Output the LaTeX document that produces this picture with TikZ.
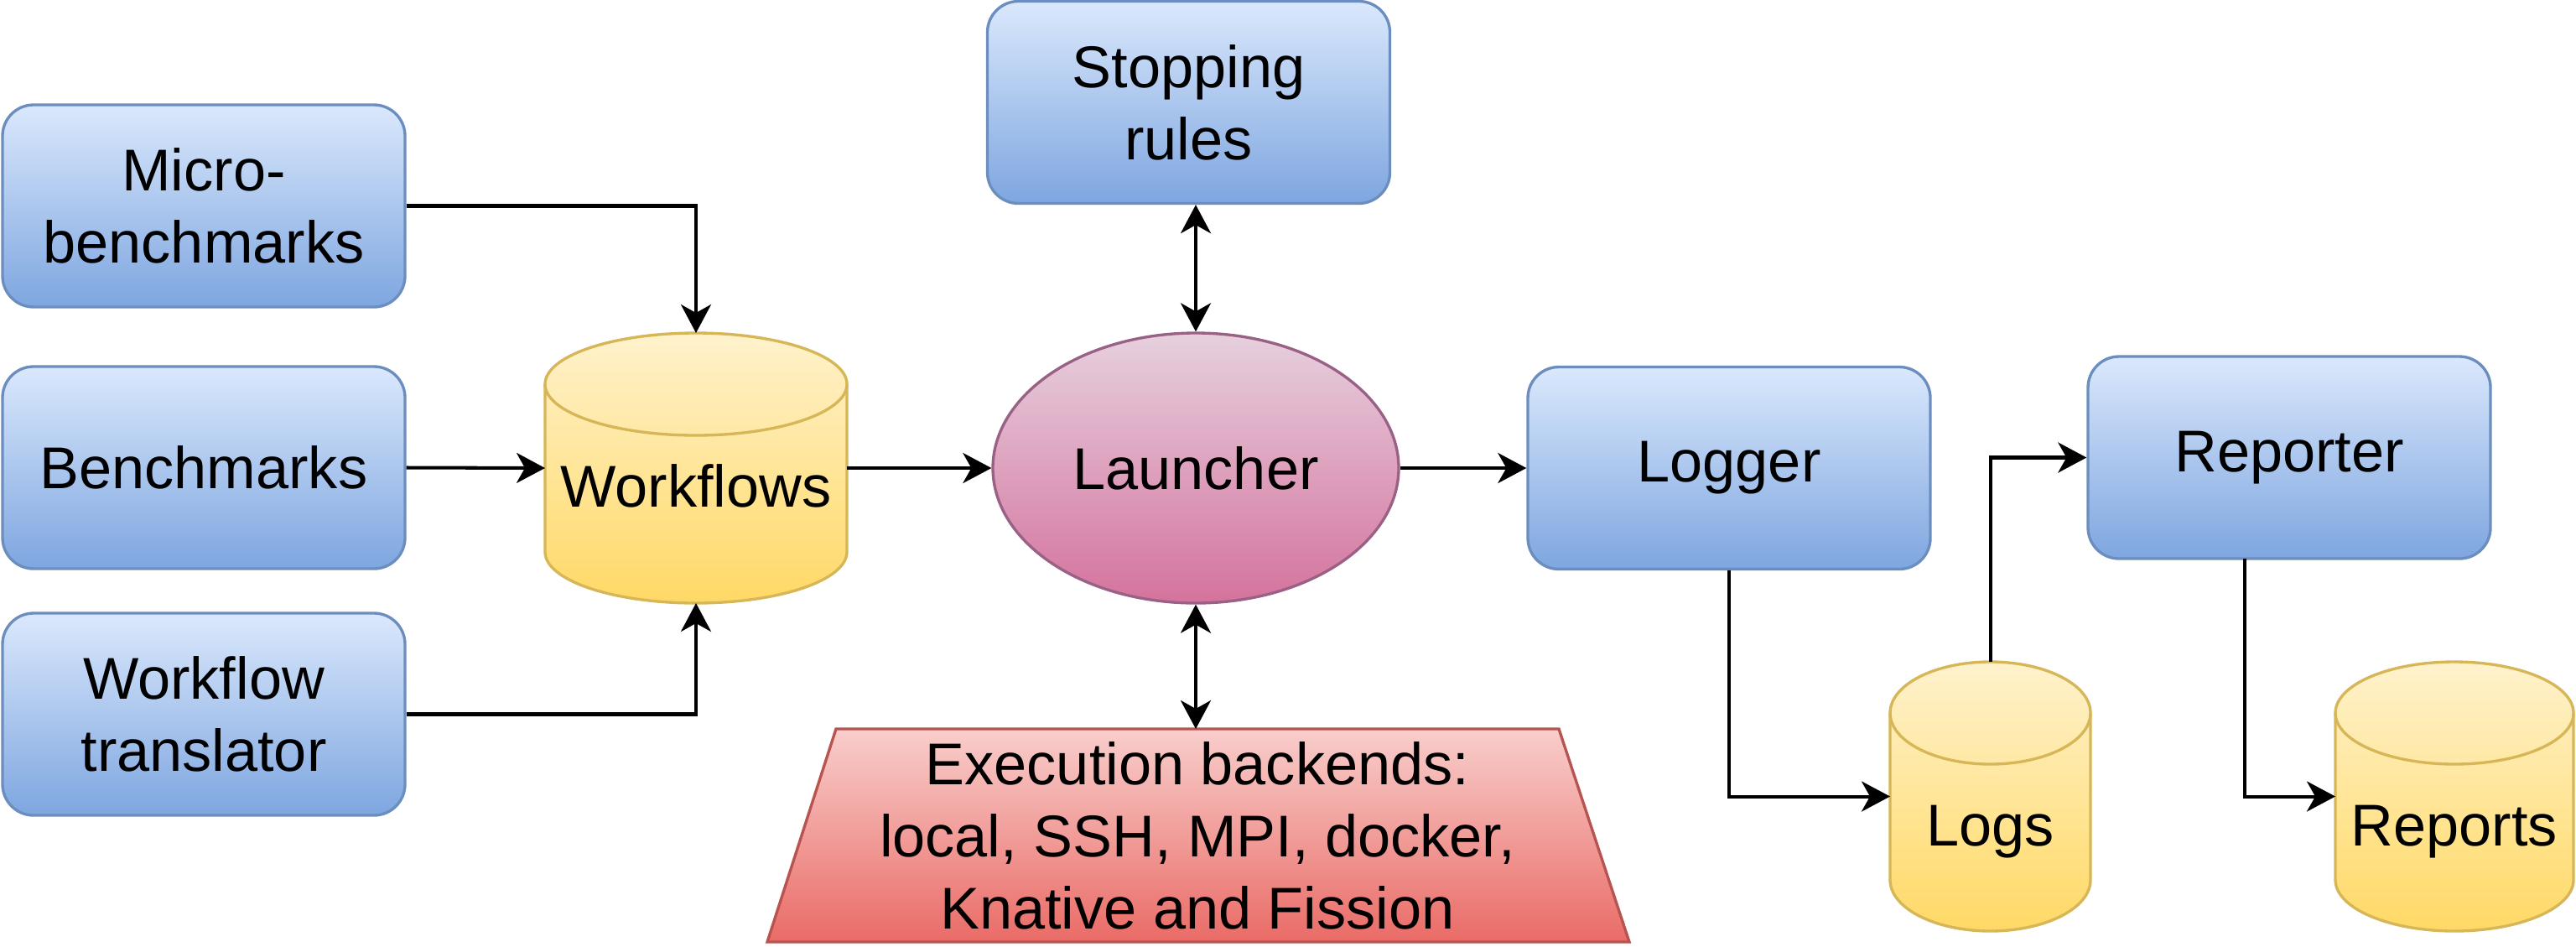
\documentclass[tikz,border=0pt]{standalone}
\usepackage{fontspec}
\setmainfont{Liberation Sans}
\usetikzlibrary{shapes.geometric,arrows.meta}
\definecolor{bluetop}{HTML}{DAE8FC}
\definecolor{bluebot}{HTML}{7EA6E0}
\definecolor{bluestroke}{HTML}{6C8EBF}
\definecolor{yeltop}{HTML}{FFF2CC}
\definecolor{yelbot}{HTML}{FFD966}
\definecolor{yelstroke}{HTML}{D6B656}
\definecolor{pinktop}{HTML}{E6D0DE}
\definecolor{pinkbot}{HTML}{D5739D}
\definecolor{pinkstroke}{HTML}{996185}
\definecolor{redtop}{HTML}{F8CECC}
\definecolor{redbot}{HTML}{EA6B66}
\definecolor{redstroke}{HTML}{B85450}
\begin{document}
\begin{tikzpicture}[
  font=\fontsize{20}{24.5}\selectfont,
  bluebox/.style={draw=bluestroke, line width=0.95pt, rounded corners=0.37cm,
    top color=bluetop, bottom color=bluebot, minimum width=4.8cm,
    minimum height=2.41cm, align=center, inner sep=0pt},
  cylstyle/.style={draw=yelstroke, line width=0.95pt, top color=yeltop, bottom color=yelbot},
  cylline/.style={draw=yelstroke, line width=0.95pt},
  hold/.style={inner sep=0pt, outer sep=0pt},
  conn/.style={line width=1.15pt, -{Stealth[length=3.4mm,width=3.6mm,inset=1mm]}},
  biconn/.style={line width=1.15pt, {Stealth[length=3.4mm,width=3.6mm,inset=1mm]}-{Stealth[length=3.4mm,width=3.6mm,inset=1mm]}}
]
\fill[white] (0,0) rectangle (30.72,-11.28);
\useasboundingbox (0,0) rectangle (30.72,-11.28);

% blue boxes
\node[bluebox] (micro) at (2.43,-2.455) {Micro-\\benchmarks};
\node[bluebox] (bench) at (2.43,-5.575) {Benchmarks};
\node[bluebox] (trans) at (2.43,-8.515) {Workflow\\translator};
\node[bluebox] (stop) at (14.175,-1.22) {Stopping\\rules};
\node[bluebox] (logger) at (20.62,-5.58) {Logger};
\node[bluebox] (rep) at (27.30,-5.455) {Reporter};

% Workflows cylinder
\path[cylstyle] (6.50,-4.58) -- (6.50,-6.58) arc[start angle=180,end angle=360,x radius=1.80cm,y radius=0.61cm]
  -- (10.10,-4.58) arc[start angle=0,end angle=180,x radius=1.80cm,y radius=0.61cm] -- cycle;
\draw[cylline] (6.50,-4.58) arc[start angle=180,end angle=360,x radius=1.80cm,y radius=0.61cm];
\node[hold, minimum width=3.6cm, minimum height=3.22cm] (wf) at (8.30,-5.58) {};
\node[anchor=base] (wft) at (8.30,-6.04) {Workflows};

% Logs cylinder
\path[cylstyle] (22.54,-8.50) -- (22.54,-10.49) arc[start angle=180,end angle=360,x radius=1.195cm,y radius=0.61cm]
  -- (24.93,-8.50) arc[start angle=0,end angle=180,x radius=1.195cm,y radius=0.61cm] -- cycle;
\draw[cylline] (22.54,-8.50) arc[start angle=180,end angle=360,x radius=1.195cm,y radius=0.61cm];
\node[hold, minimum width=2.39cm, minimum height=3.21cm] (logs) at (23.735,-9.495) {};
\node[anchor=base] (logst) at (23.735,-10.08) {Logs};

% Reports cylinder
\path[cylstyle] (27.85,-8.50) -- (27.85,-10.49) arc[start angle=180,end angle=360,x radius=1.42cm,y radius=0.61cm]
  -- (30.69,-8.50) arc[start angle=0,end angle=180,x radius=1.42cm,y radius=0.61cm] -- cycle;
\draw[cylline] (27.85,-8.50) arc[start angle=180,end angle=360,x radius=1.42cm,y radius=0.61cm];
\node[hold, minimum width=2.84cm, minimum height=3.21cm] (reports) at (29.27,-9.495) {};
\node[anchor=base] (reportst) at (29.27,-10.08) {Reports};

% Launcher
\node[ellipse, draw=pinkstroke, line width=0.95pt, top color=pinktop, bottom color=pinkbot,
  minimum width=4.84cm, minimum height=3.22cm, inner sep=0pt] (launch) at (14.26,-5.58) {Launcher};

% Execution backends trapezoid
\path[draw=redstroke, line width=0.95pt, top color=redtop, bottom color=redbot]
  (9.15,-11.23) -- (9.97,-8.69) -- (18.59,-8.69) -- (19.43,-11.23) -- cycle;
\node[hold, align=center, minimum height=2.54cm] (exec) at (14.28,-9.96)
  {Execution backends:\\local, SSH, MPI, docker,\\Knative and Fission};

% connectors
\draw[conn] (micro.east) -| (wf.north);
\draw[conn] (bench.east) -- (wf.west);
\draw[conn] (trans.east) -| (wf.south);
\draw[conn] (wf.east) -- (launch.west);
\draw[biconn] (launch.north) -- (launch.north |- stop.south);
\draw[biconn] (launch.south) -- (launch.south |- exec.north);
\draw[conn] (launch.east) -- (logger.west);
\draw[conn] (logger.south) |- (logs.west);
\draw[conn] (logs.north) |- (rep.west);
\coordinate (repout) at (26.77,-6.66);
\draw[conn] (repout) |- (reports.west);
\end{tikzpicture}
\end{document}
